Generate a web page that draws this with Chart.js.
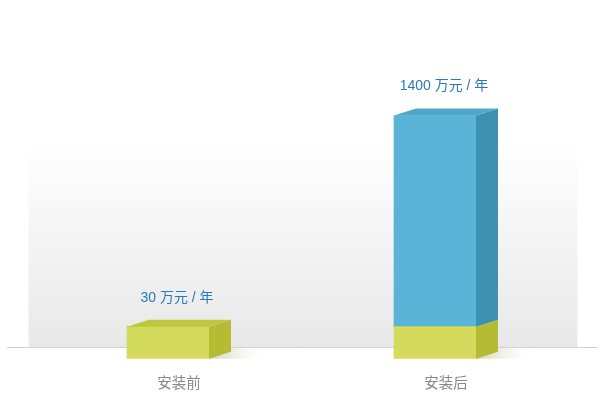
<!DOCTYPE html>
<html>
<head>
    <title>安装前后对比</title>
    <script src="https://cdn.jsdelivr.net/npm/chart.js"></script>
    <style>
        body { margin: 0; background: #fff; }
    </style>
</head>
<body>
    <canvas id="compareChart" width="602" height="400"></canvas>

    <script>
        // categories and bar heights (chart units)
        const categories = ['安装前', '安装后'];
        const baseValues = [30, 30];     // yellow part
        const gainValues = [0, 198];     // blue part on top
        // numbers printed above the bars
        const labelValues = [30, 1400];
        const labelUnit = '万元 / 年';

        const depthX = 22, depthY = -7; // fake 3D depth

        function shade(ctx, pts, color) {
            ctx.beginPath();
            ctx.moveTo(pts[0][0], pts[0][1]);
            for (let i = 1; i < pts.length; i++) ctx.lineTo(pts[i][0], pts[i][1]);
            ctx.closePath();
            ctx.fillStyle = color;
            ctx.fill();
        }

        const sideColors = ['#b3bc33', '#3c92b0'];
        const topColors = ['#c0c640', '#4ea8c7'];

        const boxPlugin = {
            id: 'box3d',
            beforeDatasetsDraw(chart) {
                const ctx = chart.ctx;
                const area = chart.chartArea;
                const floorY = 347.5;
                ctx.save();
                // grey backdrop
                const g = ctx.createLinearGradient(0, 143, 0, floorY);
                g.addColorStop(0, '#ffffff');
                g.addColorStop(1, '#e8e8e8');
                ctx.fillStyle = g;
                ctx.fillRect(area.left - 6, 143, area.right - area.left + 15, floorY - 143);
                // floor line
                ctx.strokeStyle = '#d2d2d2';
                ctx.lineWidth = 1;
                ctx.beginPath();
                ctx.moveTo(7, floorY);
                ctx.lineTo(598, floorY);
                ctx.stroke();
                // soft shadow to the right of each bar
                const meta = chart.getDatasetMeta(0);
                meta.data.forEach(bar => {
                    const right = bar.x + bar.width / 2;
                    const sg = ctx.createLinearGradient(right, 0, right + 60, 0);
                    sg.addColorStop(0, 'rgba(190,190,140,0.7)');
                    sg.addColorStop(1, 'rgba(255,255,255,0)');
                    ctx.fillStyle = sg;
                    ctx.fillRect(right, floorY + 0.5, 60, bar.base - floorY - 0.5);
                });
                ctx.restore();
            },
            afterDatasetsDraw(chart) {
                const ctx = chart.ctx;
                ctx.save();
                categories.forEach((cat, i) => {
                    let topBar = null;
                    chart.data.datasets.forEach((ds, d) => {
                        if (!ds.data[i]) return;
                        const bar = chart.getDatasetMeta(d).data[i];
                        const l = bar.x - bar.width / 2, r = bar.x + bar.width / 2;
                        shade(ctx, [[r, bar.y], [r + depthX, bar.y + depthY],
                            [r + depthX, bar.base + depthY], [r, bar.base]], sideColors[d]);
                        topBar = { bar, d, l, r };
                    });
                    const { bar, d, l, r } = topBar;
                    shade(ctx, [[l, bar.y], [l + depthX, bar.y + depthY],
                        [r + depthX, bar.y + depthY], [r, bar.y]], topColors[d]);

                    ctx.textAlign = 'center';
                    ctx.textBaseline = 'middle';
                    ctx.font = '14px "Liberation Sans", "Noto Sans CJK SC", sans-serif';
                    ctx.fillStyle = '#2b79b8';
                    ctx.fillText(labelValues[i] + ' ' + labelUnit, bar.x + 9, bar.y - 29);
                    ctx.fillStyle = '#888888';
                    ctx.font = '14.5px "Noto Sans CJK SC", sans-serif';
                    ctx.fillText(cat, bar.x + 11, 382);
                });
                ctx.restore();
            }
        };

        new Chart(document.getElementById('compareChart'), {
            type: 'bar',
            data: {
                labels: categories,
                datasets: [
                    { label: '安装前', data: baseValues, backgroundColor: '#d4db5c', borderWidth: 0 },
                    { label: '增加', data: gainValues, backgroundColor: '#5ab4d7', borderWidth: 0 }
                ]
            },
            options: {
                responsive: false,
                animation: false,
                layout: { padding: { top: 92, bottom: 41.3, left: 34.5, right: 33.5 } },
                datasets: { bar: { barThickness: 82 } },
                plugins: { legend: { display: false }, tooltip: { enabled: false } },
                scales: {
                    x: { display: false, stacked: true },
                    y: { display: false, stacked: true, min: 0, max: 250 }
                }
            },
            plugins: [boxPlugin]
        });
    </script>
</body>
</html>
